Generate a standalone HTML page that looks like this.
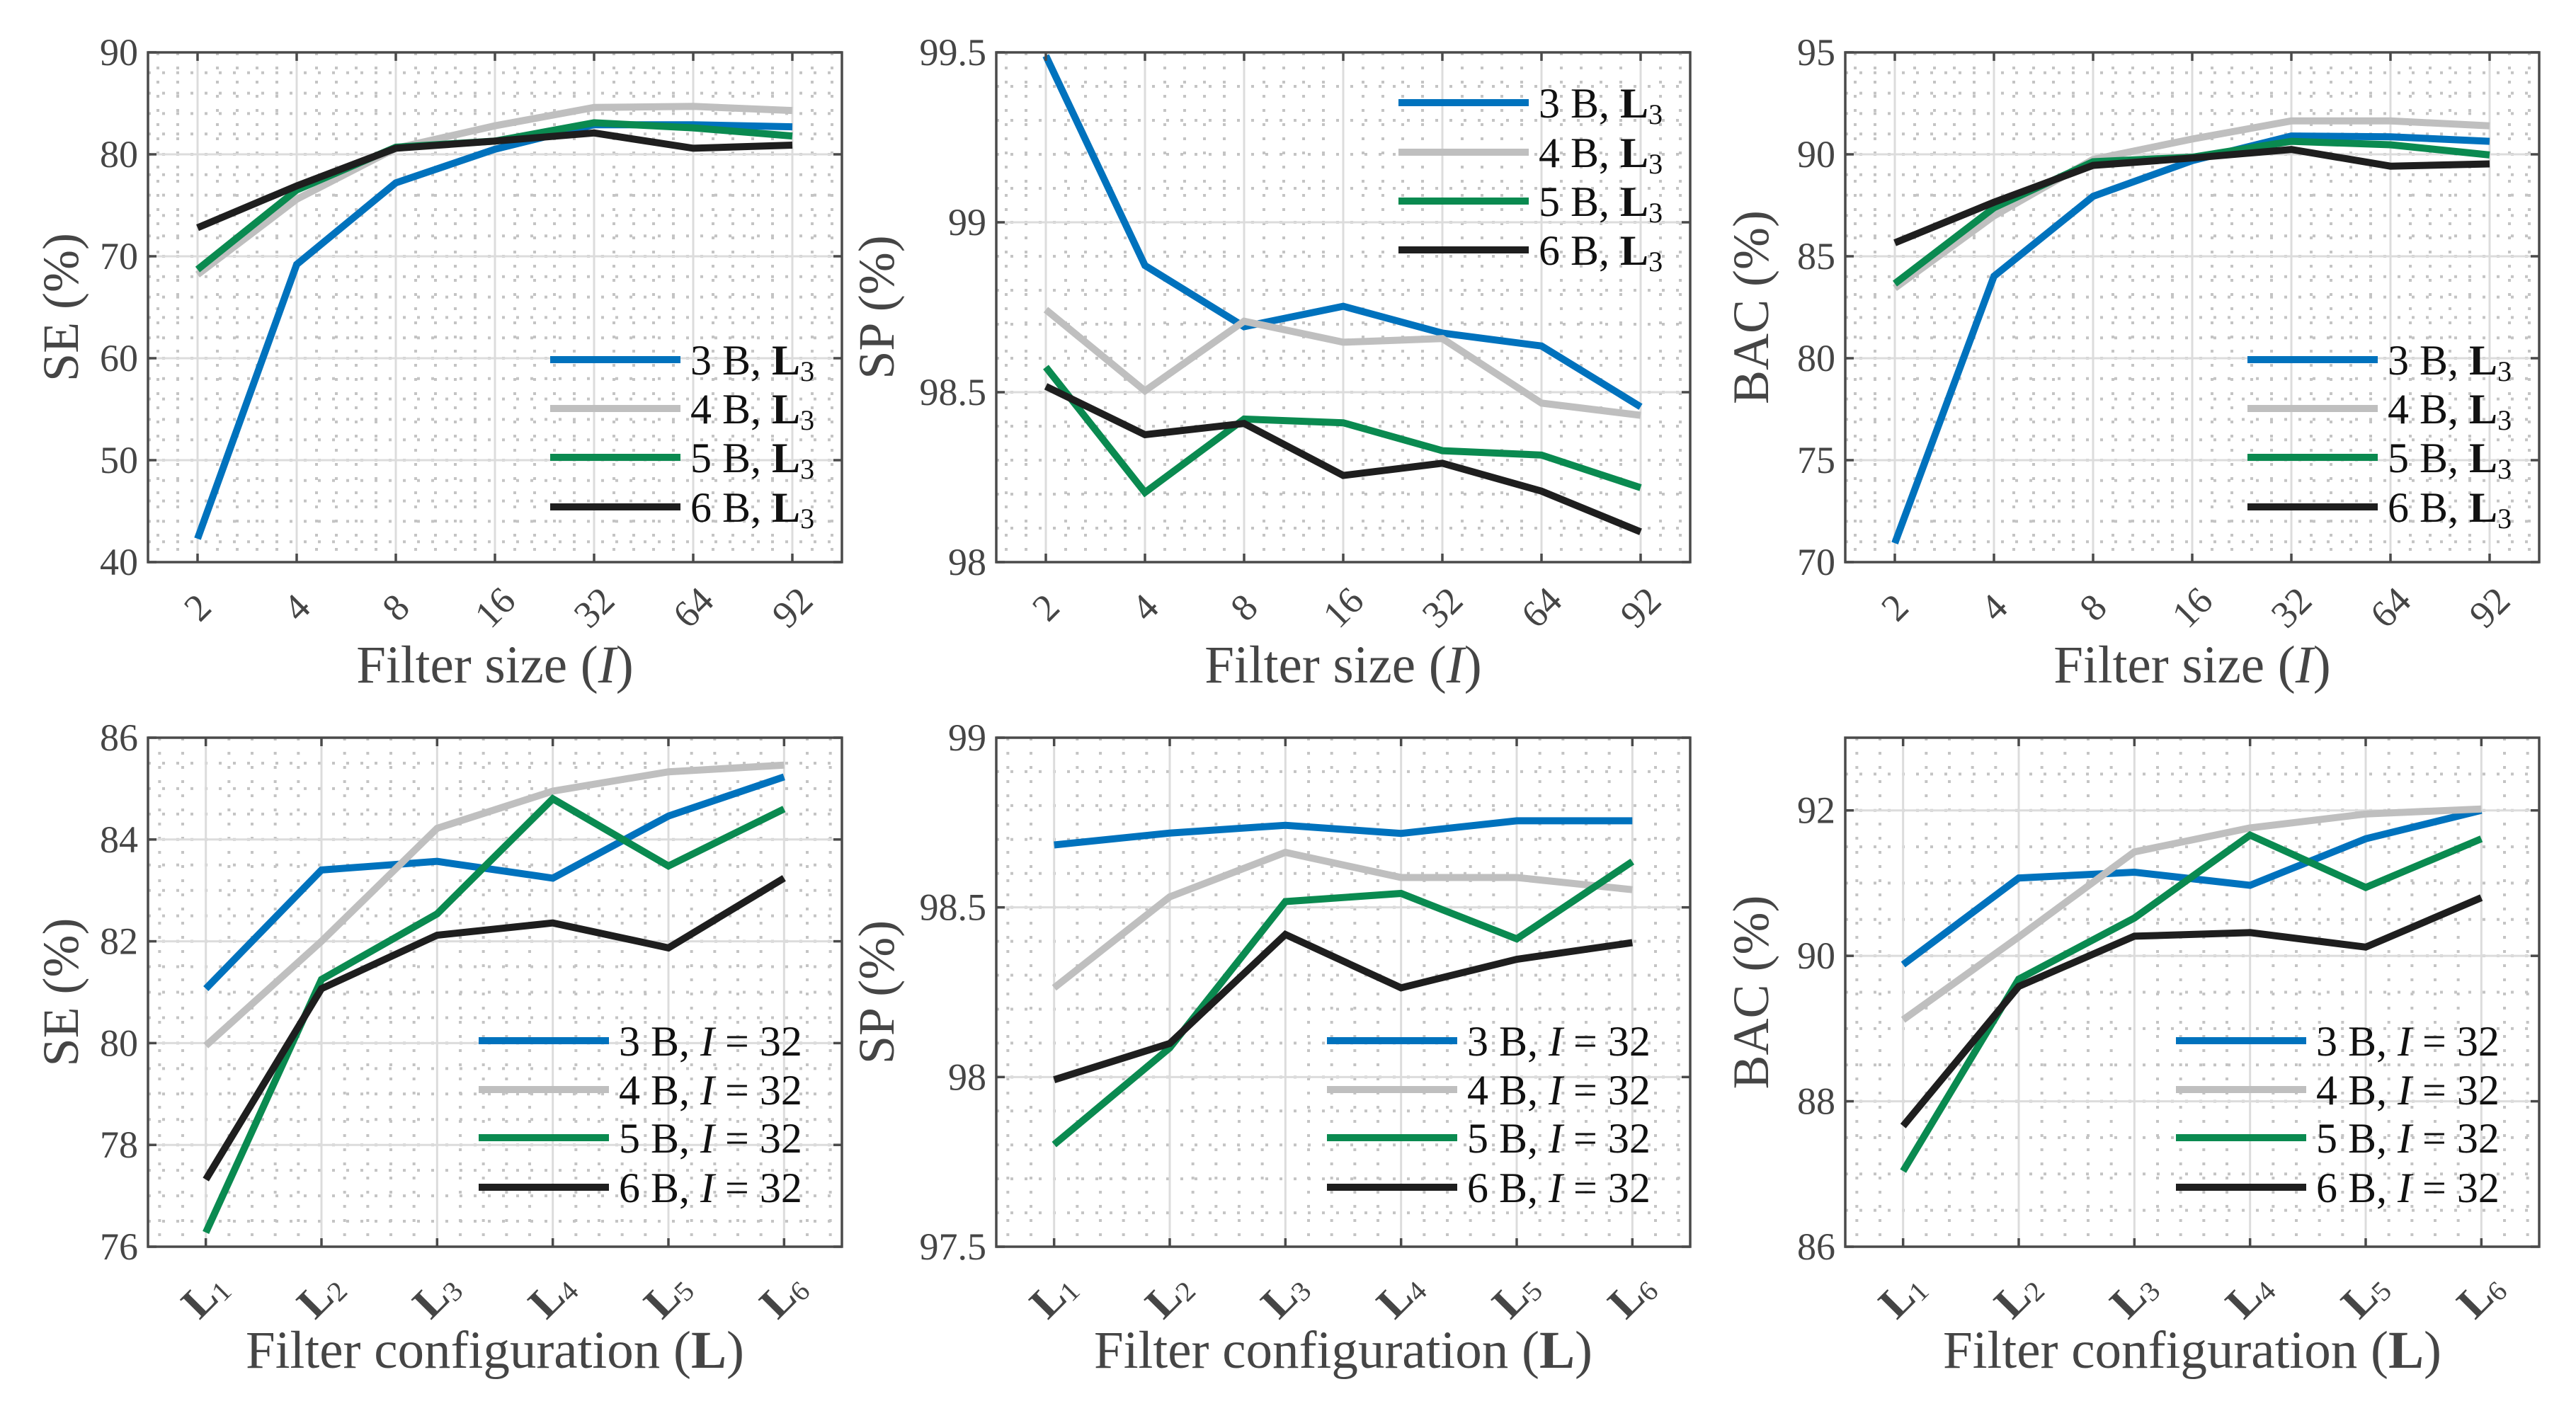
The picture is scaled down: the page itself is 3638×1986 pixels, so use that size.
<!DOCTYPE html>
<html><head><meta charset="utf-8"><style>
html,body{margin:0;padding:0;background:#fff;}
svg{display:block;font-family:"Liberation Serif",serif;}
</style></head><body>
<svg id="fig" width="3638" height="1986" viewBox="0 0 3638 1986" xmlns="http://www.w3.org/2000/svg"></svg>
<script>
// ---------- data ----------
const filterSizes = ["2","4","8","16","32","64","92"];
const filterConfigs = ["1","2","3","4","5","6"];
const seriesNames = ["3 B","4 B","5 B","6 B"];
const seriesColors = ["#0072BD","#BFBFBF","#0A8A50","#1E1E1E"];

const seSize3 = [42.3,69.2,77.2,80.5,82.9,82.9,82.7];
const seSize4 = [68.2,75.6,80.6,82.8,84.6,84.7,84.3];
const seSize5 = [68.7,76.5,80.7,81.3,83.1,82.6,81.8];
const seSize6 = [72.8,76.9,80.6,81.3,82.1,80.6,80.9];

const spSize3 = [99.49,98.873,98.693,98.753,98.674,98.636,98.457];
const spSize4 = [98.743,98.504,98.709,98.647,98.658,98.468,98.432];
const spSize5 = [98.574,98.205,98.421,98.41,98.328,98.315,98.219];
const spSize6 = [98.517,98.375,98.408,98.255,98.291,98.209,98.089];

const bacSize3 = [70.93,84.02,87.94,89.69,90.9,90.86,90.64];
const bacSize4 = [83.44,86.98,89.75,90.75,91.64,91.64,91.4];
const bacSize5 = [83.66,87.38,89.64,89.86,90.64,90.47,89.97];
const bacSize6 = [85.66,87.65,89.46,89.82,90.24,89.42,89.53];

const seConf3 = [81.07,83.4,83.57,83.24,84.46,85.23];
const seConf4 = [79.95,82.0,84.22,84.95,85.33,85.46];
const seConf5 = [76.28,81.25,82.54,84.8,83.48,84.6];
const seConf6 = [77.32,81.07,82.12,82.36,81.87,83.24];

const spConf3 = [98.684,98.719,98.742,98.718,98.755,98.755];
const spConf4 = [98.263,98.531,98.662,98.588,98.588,98.552];
const spConf5 = [97.801,98.086,98.517,98.541,98.407,98.635];
const spConf6 = [97.992,98.099,98.42,98.263,98.347,98.396];

const bacConf3 = [89.88,91.07,91.15,90.97,91.61,92.0];
const bacConf4 = [89.12,90.26,91.43,91.76,91.95,92.02];
const bacConf5 = [87.04,89.68,90.52,91.66,90.94,91.61];
const bacConf6 = [87.66,89.58,90.27,90.32,90.12,90.8];

const seSizeTicks = [40,50,60,70,80,90];
const spSizeTicks = [98,98.5,99,99.5];
const bacSizeTicks = [70,75,80,85,90,95];
const seConfTicks = [76,78,80,82,84,86];
const spConfTicks = [97.5,98,98.5,99];
const bacConfTicks = [86,88,90,92];

// ---------- drawing ----------
const NS = "http://www.w3.org/2000/svg";
const svg = document.getElementById("fig");
function mk(tag, attrs, parent){
  const e = document.createElementNS(NS, tag);
  for (const k in attrs) e.setAttribute(k, attrs[k]);
  (parent||svg).appendChild(e);
  return e;
}
function fmt(v){ return (Math.round(v*10)/10).toString(); }

function panel(opt){
  const L=opt.left, R=opt.left+980, T=opt.top, B=opt.top+opt.h;
  const g = mk("g",{});
  
  
  const n = opt.cats.length;
  const xs = i => L + (i+0.5)*(980/n);
  const ys = v => B - (v-opt.ymin)/(opt.ymax-opt.ymin)*(B-T);
  // minor grid
  const mg = mk("g",{stroke:"#c4c4c4","stroke-width":4,"stroke-dasharray":"4 16"},g);
  
  
  for (let i=-1;i<=n;i++){
    for (let k=1;k<5;k++){
      const x = xs(i)+k*(980/n)/5;
      if (x>L+3 && x<R-3) mk("line",{x1:x,x2:x,y1:T,y2:B},mg);
    }
  }
  for (let v=opt.ymin+opt.minor; v<opt.ymax-1e-9; v+=opt.minor){
    const y=ys(v); mk("line",{x1:L,x2:R,y1:y,y2:y},mg);
  }
  // major grid
  const gg = mk("g",{stroke:"#dcdcdc","stroke-width":3},g);
  
  
  for (let i=0;i<n;i++){ mk("line",{x1:xs(i),x2:xs(i),y1:T,y2:B},gg); }
  opt.ticks.forEach(v=>{ const y=ys(v); mk("line",{x1:L,x2:R,y1:y,y2:y},gg); });
  // series
  opt.series.forEach((arr,si)=>{
    const pts = arr.map((v,i)=>xs(i).toFixed(1)+","+ys(v).toFixed(1)).join(" ");
    const pl = mk("polyline",{points:pts,fill:"none",stroke:seriesColors[si],"stroke-width":10,"stroke-linejoin":"miter"},g);
    
    
  });
  // axes box
  const box = mk("rect",{x:L,y:T,width:980,height:B-T,fill:"none",stroke:"#4a4a4a","stroke-width":3.5},g);
  
  
  const tk = mk("g",{stroke:"#4a4a4a","stroke-width":3.5},g);
  for (let i=0;i<n;i++){ mk("line",{x1:xs(i),x2:xs(i),y1:B,y2:B-12},tk); mk("line",{x1:xs(i),x2:xs(i),y1:T,y2:T+12},tk); }
  opt.ticks.forEach(v=>{ const y=ys(v); mk("line",{x1:L,x2:L+12,y1:y,y2:y},tk); mk("line",{x1:R,x2:R-12,y1:y,y2:y},tk); });
  // y tick labels
  opt.ticks.forEach(v=>{
    const t = mk("text",{x:L-14,y:ys(v)+18,"text-anchor":"end","font-size":54,fill:"#454545"},g);
    t.textContent = fmt(v);
    
    
  });
  // x tick labels
  opt.cats.forEach((c,i)=>{
    const cx = xs(i), cy = B + (opt.conf?70:64);
    const t = mk("text",{x:cx,y:cy+18,"text-anchor":"middle","font-size":opt.conf?62:54,fill:"#454545",transform:"rotate(-45 "+cx+" "+cy+")"},g);
    if (opt.conf){
      const a = mk("tspan",{"font-weight":"bold"},t); a.textContent="L";
      const b = mk("tspan",{"font-size":40,dy:6},t); b.textContent=c;
    } else t.textContent = c;
    
    
  });
  // y title
  const yx = opt.ytx, yy=(T+B)/2;
  const yt = mk("text",{x:yx,y:yy,"text-anchor":"middle","font-size":72,fill:"#454545",transform:"rotate(-90 "+yx+" "+yy+")","dominant-baseline":"central"},g);
  yt.textContent = opt.ytitle + " (%)";
  
  
  // x title
  const xt = mk("text",{x:L+490,y:opt.conf?1932:964,"text-anchor":"middle","font-size":75,fill:"#454545"},g);
  
  
  if (opt.conf){
    const a=mk("tspan",{},xt); a.textContent="Filter configuration (";
    const b=mk("tspan",{"font-weight":"bold"},xt); b.textContent="L";
    const c=mk("tspan",{},xt); c.textContent=")";
  } else {
    const a=mk("tspan",{},xt); a.textContent="Filter size (";
    const b=mk("tspan",{"font-style":"italic"},xt); b.textContent="I";
    const c=mk("tspan",{},xt); c.textContent=")";
  }
  // legend
  const lg = mk("g",{},g);
  
  
  seriesNames.forEach((s,si)=>{
    const y = opt.legY[si];
    const lx1 = L + opt.legX, lx2 = lx1+184;
    const ln = mk("line",{x1:lx1,x2:lx2,y1:y,y2:y,stroke:seriesColors[si],"stroke-width":10},lg);
    
    
    const t = mk("text",{x:lx2+14,y:y+21,"font-size":60,fill:"#111"},lg);
    
    
    const a=mk("tspan",{},t); a.textContent=s+", ";
    if (opt.conf){
      const b=mk("tspan",{"font-style":"italic"},t); b.textContent="I";
      const c=mk("tspan",{},t); c.textContent=" = 32";
    } else {
      const b=mk("tspan",{"font-weight":"bold"},t); b.textContent="L";
      const c=mk("tspan",{"font-size":40,dy:9},t); c.textContent="3";
    }
  });
}

const topLegLow = [508,577,646,716];
const topLegHigh = [145,215,284,353];
const botLeg = [1470,1539,1607,1677];

panel({name:"se-vs-filter-size",left:209,top:74,h:720,cats:filterSizes,ymin:40,ymax:90,ticks:seSizeTicks,minor:2,series:[seSize3,seSize4,seSize5,seSize6],ytitle:"SE",ytx:86,legX:568,legY:topLegLow,conf:false});
panel({name:"sp-vs-filter-size",left:1407,top:74,h:720,cats:filterSizes,ymin:98,ymax:99.5,ticks:spSizeTicks,minor:0.1,series:[spSize3,spSize4,spSize5,spSize6],ytitle:"SP",ytx:1238,legX:568,legY:topLegHigh,conf:false});
panel({name:"bac-vs-filter-size",left:2606,top:74,h:720,cats:filterSizes,ymin:70,ymax:95,ticks:bacSizeTicks,minor:1,series:[bacSize3,bacSize4,bacSize5,bacSize6],ytitle:"BAC",ytx:2473,legX:568,legY:topLegLow,conf:false});
panel({name:"se-vs-filter-config",left:209,top:1042,h:719,cats:filterConfigs,ymin:76,ymax:86,ticks:seConfTicks,minor:0.5,series:[seConf3,seConf4,seConf5,seConf6],ytitle:"SE",ytx:86,legX:467,legY:botLeg,conf:true});
panel({name:"sp-vs-filter-config",left:1407,top:1042,h:719,cats:filterConfigs,ymin:97.5,ymax:99,ticks:spConfTicks,minor:0.1,series:[spConf3,spConf4,spConf5,spConf6],ytitle:"SP",ytx:1238,legX:467,legY:botLeg,conf:true});
panel({name:"bac-vs-filter-config",left:2606,top:1042,h:719,cats:filterConfigs,ymin:86,ymax:93,ticks:bacConfTicks,minor:0.5,series:[bacConf3,bacConf4,bacConf5,bacConf6],ytitle:"BAC",ytx:2473,legX:467,legY:botLeg,conf:true});
</script>
</body></html>
